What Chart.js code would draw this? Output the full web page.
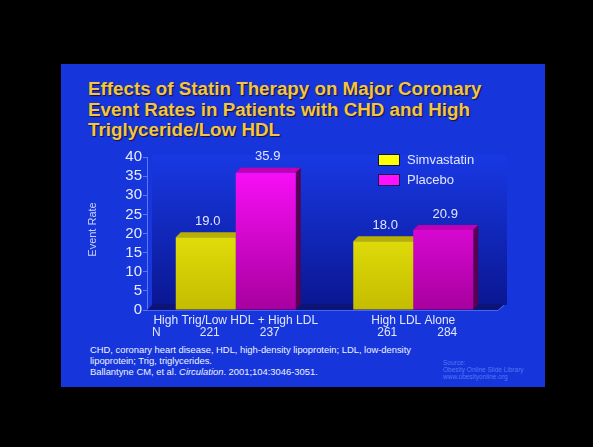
<!DOCTYPE html>
<html>
<head>
<meta charset="utf-8">
<script src="https://cdn.jsdelivr.net/npm/chart.js@4/dist/chart.umd.min.js"></script>
<style>
  html, body { margin: 0; padding: 0; background: #000; width: 593px; height: 447px; overflow: hidden;
    font-family: "Liberation Sans", Arial, sans-serif; }
  #slide { position: absolute; left: 61px; top: 64px; width: 484px; height: 323px; background: #1636dc; }
  #title { position: absolute; left: 88px; top: 79px; color: #f2c640; font-weight: bold; font-size: 18.8px;
    line-height: 20.5px; text-shadow: 1px 1px 1px #1a0e40; white-space: nowrap; }
  #notes { position: absolute; left: 90px; top: 345px; color: #f0f2ff; font-size: 9.4px; line-height: 10.5px; white-space: nowrap; }
  #notes .cite { margin-top: 1px; }
  #source { position: absolute; left: 443px; top: 359px; color: rgba(110, 140, 255, 0.75); font-size: 6.5px; line-height: 7px; white-space: nowrap; }
  canvas { position: absolute; left: 0; top: 0; }
</style>
</head>
<body>
<div id="slide"></div>
<div id="title">Effects of Statin Therapy on Major Coronary<br>Event Rates in Patients with CHD and High<br>Triglyceride/Low HDL</div>
<div id="notes">CHD, coronary heart disease, HDL, high-density lipoprotein; LDL, low-density<br>lipoprotein; Trig, triglycerides.<div class="cite">Ballantyne CM, et al. <i>Circulation</i>. 2001;104:3046-3051.</div></div>
<div id="source">Source:<br>Obesity Online Slide Library<br>www.obesityonline.org</div>
<canvas id="chart" width="593" height="447"></canvas>
<script>
// Patient groups and event rates per treatment arm
const categories = ['High Trig/Low HDL + High LDL', 'High LDL Alone'];
const seriesNames = ['Simvastatin', 'Placebo'];
const simvastatinRates = [19.0, 18.0];
const placeboRates = [35.9, 20.9];
// Number of patients in each arm
const simvastatinN = [221, 261];
const placeboN = [237, 284];
// Y axis range and step
const yMin = 0, yMax = 40, yStep = 5;

const DEPTH = 5;
const LABEL_COLOR = '#e2e6ff';
const FONT = '"Liberation Sans", Arial, sans-serif';

function barGradient(top, bottom) {
  return function (ctx) {
    const area = ctx.chart.chartArea;
    if (!area) return top;
    const g = ctx.chart.ctx.createLinearGradient(0, area.top, 0, area.bottom);
    g.addColorStop(0, top);
    g.addColorStop(1, bottom);
    return g;
  };
}

// Back wall, floor, and the top/side faces that give each bar its depth
const depthPlugin = {
  id: 'depth3d',
  beforeDatasetsDraw(chart) {
    const { ctx, chartArea: a } = chart;
    ctx.save();
    const wall = ctx.createLinearGradient(0, a.top, 0, a.bottom);
    wall.addColorStop(0, '#1838e2');
    wall.addColorStop(1, '#0a1690');
    ctx.fillStyle = wall;
    ctx.fillRect(a.left + DEPTH, a.top - 2, a.right - a.left, a.bottom - a.top - DEPTH + 2);

    // floor
    ctx.fillStyle = '#0c1478';
    ctx.beginPath();
    ctx.moveTo(a.left, a.bottom);
    ctx.lineTo(a.right - 4, a.bottom);
    ctx.lineTo(a.right - 4 + DEPTH + 1, a.bottom - DEPTH - 1);
    ctx.lineTo(a.left + DEPTH + 1, a.bottom - DEPTH - 1);
    ctx.closePath();
    ctx.fill();
    ctx.strokeStyle = '#4866f4';
    ctx.lineWidth = 1;
    ctx.beginPath();
    ctx.moveTo(a.left, a.bottom + 0.5);
    ctx.lineTo(a.right - 4, a.bottom + 0.5);
    ctx.lineTo(a.right - 4 + DEPTH + 1, a.bottom - DEPTH + 0.5);
    ctx.stroke();

    const faceColors = [
      { top: '#b8b000', side: '#5a5600' },
      { top: '#c000b4', side: '#5a0052' }
    ];
    chart.data.datasets.forEach((ds, i) => {
      const meta = chart.getDatasetMeta(i);
      meta.data.forEach(bar => {
        const L = bar.x - bar.width / 2, R = bar.x + bar.width / 2;
        const y = bar.y, b = bar.base;
        ctx.fillStyle = faceColors[i].top;
        ctx.beginPath();
        ctx.moveTo(L, y); ctx.lineTo(R, y); ctx.lineTo(R + DEPTH, y - DEPTH); ctx.lineTo(L + DEPTH, y - DEPTH);
        ctx.closePath(); ctx.fill();
        ctx.fillStyle = faceColors[i].side;
        ctx.beginPath();
        ctx.moveTo(R, y); ctx.lineTo(R + DEPTH, y - DEPTH); ctx.lineTo(R + DEPTH, b - DEPTH); ctx.lineTo(R, b);
        ctx.closePath(); ctx.fill();
      });
    });
    ctx.restore();
  },
  afterDatasetsDraw(chart) {
    const { ctx, chartArea: a } = chart;
    ctx.save();
    // value labels above bars
    ctx.font = '13px ' + FONT;
    ctx.fillStyle = LABEL_COLOR;
    ctx.textAlign = 'center';
    ctx.textBaseline = 'middle';
    chart.data.datasets.forEach((ds, i) => {
      chart.getDatasetMeta(i).data.forEach((bar, j) => {
        ctx.fillText(ds.data[j].toFixed(1), bar.x + 2, bar.y - 16);
      });
    });

    // N row under the category labels
    ctx.font = '12px ' + FONT;
    ctx.textAlign = 'left';
    ctx.fillText('N', a.left + 5, a.bottom + 23);
    ctx.textAlign = 'center';
    const nRows = [simvastatinN, placeboN];
    nRows.forEach((row, i) => {
      chart.getDatasetMeta(i).data.forEach((bar, j) => {
        ctx.fillText(String(row[j]), bar.x + 4, bar.base + 23);
      });
    });

    // y axis title
    ctx.save();
    ctx.translate(93, (a.top + a.bottom) / 2 - 4);
    ctx.rotate(-Math.PI / 2);
    ctx.font = '11px ' + FONT;
    ctx.fillStyle = '#c8d0ff';
    ctx.fillText('Event Rate', 0, 0);
    ctx.restore();

    // legend
    const lx = a.right - 123, ly = a.top - 2;
    ctx.font = '13px ' + FONT;
    ctx.textAlign = 'left';
    chart.data.datasets.forEach((ds, i) => {
      const y = ly + i * 20;
      ctx.fillStyle = '#10104a';
      ctx.fillRect(lx - 1, y - 1, 22, 12);
      ctx.fillStyle = ds.legendColor;
      ctx.fillRect(lx, y, 20, 10);
      ctx.fillStyle = LABEL_COLOR;
      ctx.fillText(ds.label, lx + 28, y + 5);
    });
    ctx.restore();
  }
};

new Chart(document.getElementById('chart'), {
  type: 'bar',
  data: {
    labels: categories,
    datasets: [
      { label: seriesNames[0], data: simvastatinRates, legendColor: '#ffff00',
        backgroundColor: barGradient('#ffff14', '#c4bc00') },
      { label: seriesNames[1], data: placeboRates, legendColor: '#ff10ff',
        backgroundColor: barGradient('#ff10ff', '#a8009e') }
    ]
  },
  options: {
    responsive: false,
    animation: false,
    events: [],
    layout: { padding: { left: 100, top: 157, right: 91, bottom: 117 } },
    datasets: { bar: { barPercentage: 1, categoryPercentage: 0.676, borderWidth: 0 } },
    plugins: { legend: { display: false }, tooltip: { enabled: false }, title: { display: false } },
    scales: {
      x: {
        afterFit(s) { s.height = 20; },
        grid: { display: false, drawTicks: false },
        border: { display: false },
        ticks: { color: LABEL_COLOR, font: { family: FONT, size: 12 }, padding: 3, maxRotation: 0, autoSkip: false }
      },
      y: {
        min: yMin, max: yMax,
        afterFit(s) { s.width = 47; },
        grid: { drawOnChartArea: false, drawTicks: true, tickLength: 4, color: '#5a78ff' },
        border: { display: true, color: '#5a78ff', width: 1 },
        ticks: { stepSize: yStep, autoSkip: false, color: '#e8ecff', font: { family: FONT, size: 15 }, padding: 1 }
      }
    }
  },
  plugins: [depthPlugin]
});
</script>
</body>
</html>
